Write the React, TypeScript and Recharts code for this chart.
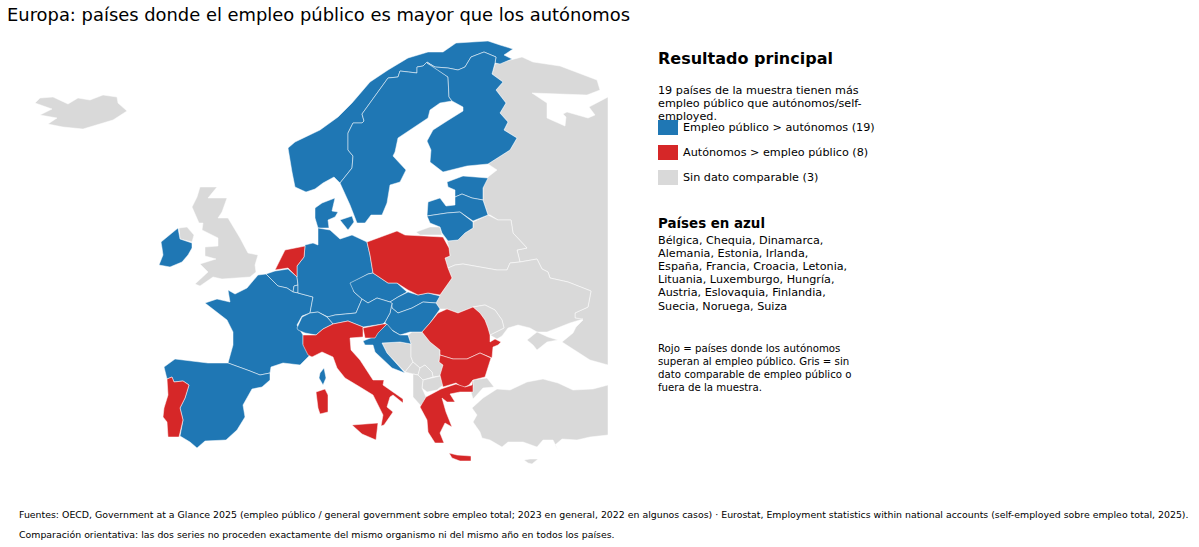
import { Scatter, ScatterChart, XAxis, YAxis } from "recharts";

type Pt = [number, number];

const BLUE = "#1f77b4";
const RED = "#d62728";
const GRAY = "#d9d9d9";

// outlines in map units
const iceland: Pt[] = [[35,103],[40,98],[53,97],[68,104],[78,98],[90,100],[103,95],[117,97],[118,103],[127,111],[113,120],[83,129],[63,127],[48,124],[57,118],[40,115],[52,109]];
const uk: Pt[] = [[200,187],[217,187],[208,198],[227,198],[222,212],[218,218],[228,218],[240,238],[248,253],[258,255],[255,265],[256,272],[250,277],[222,279],[213,277],[200,286],[195,284],[208,272],[200,264],[216,259],[205,256],[205,247],[218,246],[218,238],[202,230],[203,223],[199,223],[192,207],[197,197]];
const nIreland: Pt[] = [[179,228],[187,227],[194,235],[192,242],[180,239]];
const russia: Pt[] = [[495,64],[522,57],[533,62],[560,66],[597,80],[600,90],[587,95],[532,93],[547,103],[547,118],[565,126],[566,117],[563,114],[567,112],[588,118],[595,115],[589,107],[608,97],[608,365],[590,360],[562,342],[573,333],[576,327],[583,320],[575,318],[575,313],[588,307],[591,291],[568,282],[550,278],[548,272],[542,269],[537,259],[520,262],[517,250],[527,248],[513,233],[511,220],[498,220],[490,215],[488,215],[483,200],[483,188],[488,177],[497,170],[488,164],[510,150],[517,138],[504,130],[508,122],[500,113],[506,103],[496,90],[503,82],[492,74]];
const kaliningrad: Pt[] = [[416,232],[430,227],[440,227],[442,235],[420,235]];
const belarus: Pt[] = [[473,222],[488,215],[498,220],[511,220],[513,233],[527,248],[517,250],[520,262],[510,263],[507,270],[497,270],[480,267],[463,264],[455,265],[448,268],[445,258],[450,256],[449,248],[447,241],[458,240],[465,233],[473,228]];
const ukraine: Pt[] = [[448,268],[455,265],[463,264],[480,267],[497,270],[507,270],[510,263],[520,262],[537,259],[542,269],[548,272],[550,278],[568,282],[591,291],[588,307],[575,313],[575,318],[583,319],[570,323],[547,332],[537,332],[530,328],[518,325],[508,328],[502,336],[497,339],[490,335],[504,328],[502,320],[495,310],[485,305],[473,307],[458,313],[447,309],[440,309],[436,303],[440,295],[452,278]];
const crimea: Pt[] = [[527,340],[537,332],[548,337],[558,340],[547,342],[537,350],[533,345]];
const moldova: Pt[] = [[473,307],[485,305],[495,310],[502,320],[504,328],[490,335],[488,328],[485,320],[480,313]];
const bosnia: Pt[] = [[382,343],[400,342],[411,344],[411,357],[413,362],[405,372],[387,353]];
const serbia: Pt[] = [[408,335],[412,332],[422,332],[430,342],[440,350],[440,355],[439,362],[443,365],[440,376],[433,377],[432,372],[425,365],[420,368],[413,362],[411,357],[411,344]];
const montenegro: Pt[] = [[405,372],[413,362],[420,368],[418,375],[413,374]];
const kosovo: Pt[] = [[420,368],[425,365],[432,372],[433,377],[423,380],[418,375]];
const macedonia: Pt[] = [[423,380],[440,376],[443,385],[437,390],[427,392],[422,388]];
const albania: Pt[] = [[413,374],[418,375],[423,380],[422,388],[426,397],[422,407],[413,397],[413,383]];
const turkeyEurope: Pt[] = [[472,380],[487,378],[494,387],[483,388],[473,399],[471,392],[473,387]];
const turkey: Pt[] = [[472,408],[483,398],[497,389],[510,390],[527,382],[543,379],[558,383],[573,390],[593,389],[608,385],[608,435],[590,437],[577,440],[562,439],[555,445],[558,450],[553,440],[543,440],[537,447],[523,442],[508,442],[502,447],[490,440],[482,438],[480,432],[473,422],[477,415]];
const cyprus: Pt[] = [[524,460],[530,459],[538,459],[532,464],[528,463]];

const norway: Pt[] = [[288,148],[295,142],[320,130],[338,117],[352,103],[370,82],[388,70],[408,58],[428,52],[443,52],[456,43],[488,41],[500,45],[513,49],[504,55],[512,59],[500,64],[495,63],[496,57],[484,52],[471,57],[465,67],[458,70],[448,68],[435,67],[427,62],[423,66],[417,67],[417,73],[400,71],[398,77],[388,78],[362,114],[364,121],[362,123],[353,123],[348,133],[348,150],[353,156],[352,168],[340,183],[334,177],[323,183],[315,189],[306,192],[295,187],[292,172]];
const sweden: Pt[] = [[427,62],[448,77],[449,97],[452,101],[440,103],[430,110],[428,118],[413,128],[398,138],[395,152],[393,156],[406,170],[400,182],[390,185],[387,203],[382,215],[371,215],[365,223],[357,223],[350,205],[340,183],[352,168],[353,156],[348,150],[348,133],[353,123],[362,123],[364,121],[362,114],[388,78],[398,77],[400,71],[417,73],[417,67],[423,66]];
const finland: Pt[] = [[427,63],[435,67],[448,68],[458,70],[465,67],[471,57],[484,52],[496,57],[495,63],[492,74],[503,82],[496,90],[506,103],[500,113],[508,122],[504,130],[517,138],[510,150],[488,164],[467,166],[443,172],[430,162],[431,150],[427,141],[433,130],[447,121],[463,111],[463,107],[452,101],[449,97],[448,77]];
const estonia: Pt[] = [[447,182],[463,176],[488,178],[483,188],[483,200],[472,198],[462,194],[455,197],[455,190],[448,187]];
const latvia: Pt[] = [[428,202],[440,198],[446,206],[455,205],[455,197],[462,194],[472,198],[483,200],[488,215],[473,221],[460,212],[447,213],[427,216]];
const lithuania: Pt[] = [[427,216],[447,213],[460,212],[473,222],[473,228],[465,233],[458,240],[448,241],[442,233],[440,227],[430,223]];
const ireland: Pt[] = [[161,242],[178,228],[180,239],[192,243],[192,248],[188,255],[182,262],[170,267],[159,265],[163,255],[162,248]];
const denmark: Pt[] = [[315,208],[322,203],[335,198],[332,211],[338,212],[335,217],[328,220],[329,228],[318,228],[315,218]];
const zealand: Pt[] = [[340,220],[352,216],[354,222],[348,230]];
const belgium: Pt[] = [[266,274],[275,271],[288,269],[297,277],[298,285],[294,286],[293,292],[287,288],[278,286],[272,280]];
const luxembourg: Pt[] = [[294,286],[298,285],[298,293],[293,292]];
const france: Pt[] = [[205,303],[217,299],[230,302],[228,290],[235,294],[247,288],[258,275],[266,274],[272,280],[278,286],[287,288],[293,292],[298,293],[313,297],[310,313],[302,316],[297,325],[303,335],[303,344],[310,355],[300,365],[283,363],[271,367],[270,373],[260,375],[250,371],[228,363],[233,345],[233,332],[227,320]];
const spain: Pt[] = [[164,367],[175,359],[208,363],[228,363],[250,371],[260,375],[270,373],[270,380],[262,387],[252,389],[243,405],[245,417],[237,430],[226,440],[205,441],[197,448],[190,442],[180,436],[183,420],[180,408],[185,398],[189,385],[183,381],[174,382],[172,377],[167,379]];
const germany: Pt[] = [[305,245],[313,243],[318,245],[318,228],[330,230],[340,239],[352,235],[367,242],[370,255],[373,273],[368,274],[352,283],[354,292],[362,299],[356,313],[335,315],[328,317],[318,312],[310,313],[313,297],[298,293],[298,285],[297,277],[297,266],[304,257]];
const czechia: Pt[] = [[350,283],[368,274],[373,273],[388,283],[397,283],[407,292],[398,297],[390,302],[377,298],[368,303],[362,299],[354,292]];
const slovakia: Pt[] = [[408,292],[418,295],[428,293],[440,296],[436,303],[423,302],[412,308],[398,313],[392,308],[390,302],[398,297]];
const hungary: Pt[] = [[392,303],[392,308],[398,313],[412,308],[423,302],[436,303],[440,309],[430,323],[422,332],[410,332],[400,335],[387,327],[385,322],[390,313]];
const austria: Pt[] = [[327,317],[335,315],[356,313],[362,299],[368,303],[377,298],[390,302],[392,303],[390,313],[385,322],[383,324],[363,327],[348,321],[333,324]];
const switzerland: Pt[] = [[297,328],[302,317],[310,313],[318,312],[327,317],[333,324],[323,329],[316,335],[305,333],[298,330]];
const croatia: Pt[] = [[387,324],[393,331],[400,335],[408,335],[411,344],[400,342],[382,343],[387,353],[405,373],[392,368],[375,352],[373,345],[365,345],[363,341],[373,337],[378,332]];
const corsica: Pt[] = [[324,368],[326,378],[323,385],[319,378],[320,373]];

const netherlands: Pt[] = [[275,270],[285,250],[305,246],[304,257],[297,266],[297,277],[288,268]];
const poland: Pt[] = [[367,242],[397,231],[405,235],[443,237],[449,248],[450,256],[445,258],[448,268],[452,278],[440,295],[428,293],[418,295],[408,290],[397,283],[388,283],[373,273],[370,255]];
const portugal: Pt[] = [[167,379],[172,377],[174,382],[183,381],[189,385],[185,398],[180,408],[183,420],[179,437],[168,437],[167,422],[163,417],[164,408],[168,395]];
const italy: Pt[] = [[303,335],[316,335],[323,329],[333,324],[348,321],[363,327],[363,337],[350,338],[351,350],[360,360],[373,380],[384,380],[383,385],[403,399],[403,403],[393,395],[390,397],[387,407],[393,412],[384,425],[381,426],[383,415],[373,395],[360,387],[345,378],[337,368],[333,357],[322,352],[312,357],[308,355],[303,345]];
const sicily: Pt[] = [[352,425],[378,423],[376,440],[362,434]];
const sardinia: Pt[] = [[316,392],[325,389],[328,395],[328,412],[320,414],[318,408]];
const slovenia: Pt[] = [[363,328],[383,324],[387,324],[378,333],[375,338],[365,338]];
const romania: Pt[] = [[422,332],[430,323],[438,313],[447,309],[458,313],[473,307],[480,313],[485,320],[488,328],[490,335],[490,342],[495,339],[501,342],[498,345],[493,347],[492,358],[480,353],[467,359],[453,359],[440,355],[440,350],[430,342]];
const bulgaria: Pt[] = [[440,355],[453,359],[467,359],[480,353],[491,358],[485,377],[473,380],[469,385],[463,388],[456,383],[443,387],[440,375],[443,365],[439,362]];
const greece: Pt[] = [[420,407],[426,397],[441,389],[456,384],[465,387],[472,385],[473,380],[473,392],[460,392],[450,394],[455,402],[447,402],[442,398],[446,412],[452,427],[445,423],[440,433],[444,443],[435,443],[428,432],[427,420]];
const crete: Pt[] = [[449,453],[457,455],[471,456],[471,461],[460,461],[452,458]];

const grayShapes = [iceland, uk, nIreland, russia, kaliningrad, belarus, ukraine, crimea, moldova, bosnia, serbia, montenegro, kosovo, macedonia, albania, turkeyEurope, turkey, cyprus];
const blueShapes = [norway, sweden, finland, estonia, latvia, lithuania, ireland, denmark, zealand, belgium, luxembourg, france, spain, germany, czechia, slovakia, hungary, austria, switzerland, croatia, corsica];
const redShapes = [netherlands, poland, portugal, italy, sicily, sardinia, slovenia, romania, bulgaria, greece, crete];

const legendItems = [
  { color: BLUE, label: "Empleo público > autónomos (19)", top: 120 },
  { color: RED, label: "Autónomos > empleo público (8)", top: 145 },
  { color: GRAY, label: "Sin dato comparable (3)", top: 170 },
];
const intro = ["19 países de la muestra tienen más", "empleo público que autónomos/self-", "employed."];
const blueCountries = ["Bélgica, Chequia, Dinamarca,", "Alemania, Estonia, Irlanda,", "España, Francia, Croacia, Letonia,", "Lituania, Luxemburgo, Hungría,", "Austria, Eslovaquia, Finlandia,", "Suecia, Noruega, Suiza"];
const note = ["Rojo = países donde los autónomos", "superan al empleo público. Gris = sin", "dato comparable de empleo público o", "fuera de la muestra."];
const sources = [
  "Fuentes: OECD, Government at a Glance 2025 (empleo público / general government sobre empleo total; 2023 en general, 2022 en algunos casos) · Eurostat, Employment statistics within national accounts (self-employed sobre empleo total, 2025).",
  "Comparación orientativa: las dos series no proceden exactamente del mismo organismo ni del mismo año en todos los países.",
];

const toRows = (pts: Pt[]) => pts.map(([x, y]) => ({ x, y }));

// Scatter hands the scaled points to `line`, so the outline goes through the axes
function outline(color: string) {
  return (props: any) => (
    <polygon
      points={props.points.map((p: any) => `${p.cx ?? p.x},${p.cy ?? p.y}`).join(" ")}
      fill={color}
      stroke="#ffffff"
      strokeWidth={0.5}
      strokeLinejoin="round"
    />
  );
}

function Label({ x, y, size, bold, children }: any) {
  // y is the vertical centre of the line
  return (
    <div
      style={{
        position: "absolute",
        left: x,
        top: y - 10,
        height: 20,
        lineHeight: "20px",
        fontSize: size,
        fontWeight: bold ? 700 : 400,
        whiteSpace: "nowrap",
        color: "#000",
      }}
    >
      {children}
    </div>
  );
}

export default function App() {
  const groups: [Pt[][], string][] = [
    [grayShapes, GRAY],
    [blueShapes, BLUE],
    [redShapes, RED],
  ];
  return (
    <div
      style={{
        position: "fixed",
        left: 0,
        top: 0,
        width: 1199,
        height: 547,
        background: "#fff",
        fontFamily: "'DejaVu Sans', sans-serif",
        overflow: "hidden",
      }}
    >
      <ScatterChart width={1199} height={547} margin={{ top: 0, right: 0, bottom: 0, left: 0 }}>
        <XAxis type="number" dataKey="x" domain={[0, 1199]} hide />
        <YAxis type="number" dataKey="y" domain={[0, 547]} reversed hide />
        {groups.flatMap(([shapes, color]) =>
          shapes.map((pts, i) => (
            <Scatter
              key={`${color}-${i}`}
              data={toRows(pts)}
              line={outline(color)}
              shape={() => <g />}
              isAnimationActive={false}
            />
          )),
        )}
      </ScatterChart>

      <Label x={7} y={15} size={17.9}>Europa: países donde el empleo público es mayor que los autónomos</Label>
      <Label x={658} y={59} size={16} bold>Resultado principal</Label>
      {intro.map((t, i) => (
        <Label key={t} x={658} y={91 + i * 13.1} size={11.2}>{t}</Label>
      ))}
      {legendItems.map((d) => (
        <div key={d.label}>
          <div style={{ position: "absolute", left: 658, top: d.top, width: 20, height: 15, background: d.color }} />
          <Label x={683} y={d.top + 8} size={11.2}>{d.label}</Label>
        </div>
      ))}
      <Label x={658} y={224} size={13.4} bold>Países en azul</Label>
      {blueCountries.map((t, i) => (
        <Label key={t} x={658} y={241 + i * 13.1} size={11.2}>{t}</Label>
      ))}
      {note.map((t, i) => (
        <Label key={t} x={658} y={349 + i * 13.1} size={10.2}>{t}</Label>
      ))}
      {sources.map((t, i) => (
        <Label key={t} x={19} y={515 + i * 20} size={9.4}>{t}</Label>
      ))}
    </div>
  );
}
